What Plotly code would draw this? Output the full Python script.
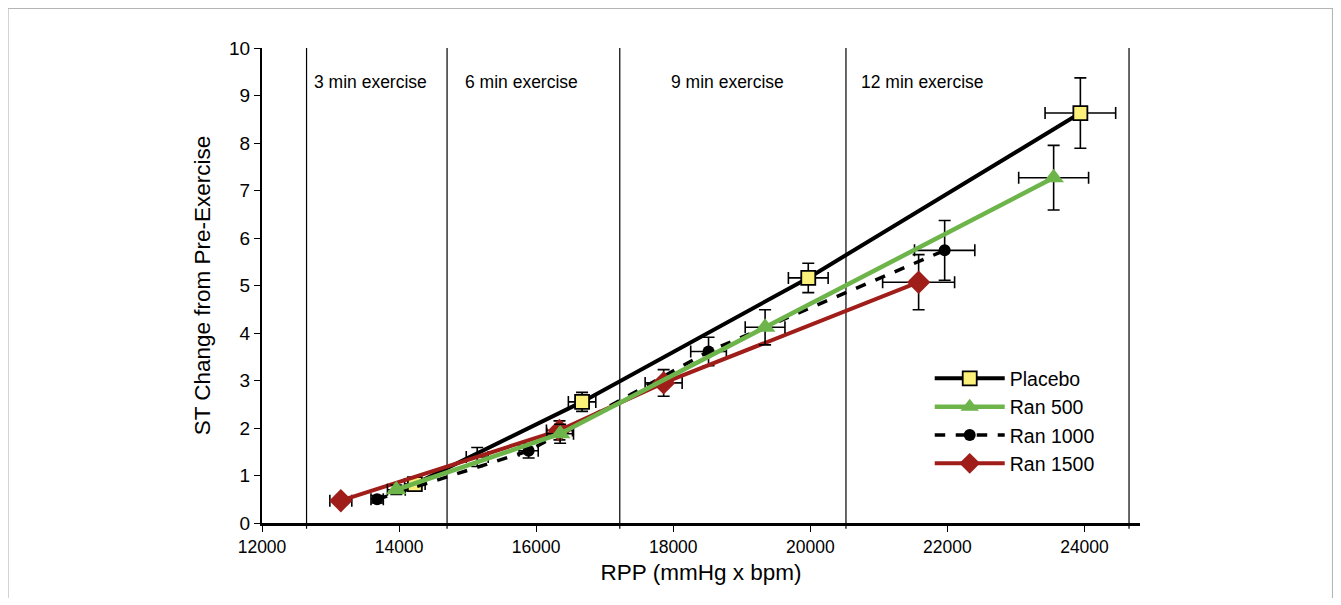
import plotly.graph_objects as go

# ---- data ----
placebo_x = [14230, 16670, 19970, 23940]
placebo_y = [0.82, 2.55, 5.16, 8.63]
placebo_ex = [150, 200, 290, 515]
placebo_ey = [0.10, 0.20, 0.31, 0.74]

ran500_x = [13960, 16350, 19340, 23550]
ran500_y = [0.70, 1.88, 4.12, 7.27]
ran500_ex = [130, 195, 290, 510]
ran500_ey = [0.10, 0.20, 0.37, 0.68]

ran1000_x = [13680, 15890, 18515, 21960]
ran1000_y = [0.50, 1.52, 3.61, 5.74]
ran1000_ex = [90, 140, 260, 440]
ran1000_ey = [0.08, 0.15, 0.30, 0.63]

ran1500_x = [13150, 16340, 17860, 21580]
ran1500_y = [0.47, 1.95, 2.95, 5.07]
ran1500_ex = [160, 190, 270, 525]
ran1500_ey = [0.08, 0.20, 0.28, 0.58]

# error bar visible without a marker
extra_x = [15140]
extra_y = [1.39]
extra_ex = [160]
extra_ey = [0.20]

stage_bounds = [12650, 14700, 17220, 20520, 24650]
stage_labels = ["3 min exercise", "6 min exercise", "9 min exercise", "12 min exercise"]
stage_label_x = [13580, 15780, 18790, 21640]
stage_label_y = 9.28

x_ticks = [12000, 14000, 16000, 18000, 20000, 22000, 24000]
y_ticks = list(range(0, 11))

FONT = "Liberation Sans, Arial, Helvetica, sans-serif"
GREEN = "#6db54b"
RED = "#a01e1a"
YELLOW = "#fbf07a"

fig = go.Figure()


def err(arr, w=6):
    return dict(type="data", array=arr, visible=True, color="black", thickness=1.6, width=w)


fig.add_trace(go.Scatter(
    x=extra_x, y=extra_y, mode="markers", showlegend=False,
    marker=dict(size=1, opacity=0),
    error_x=err(extra_ex), error_y=err(extra_ey), hoverinfo="skip"))

fig.add_trace(go.Scatter(
    x=placebo_x, y=placebo_y, name="Placebo", mode="lines+markers", legendrank=1,
    line=dict(color="black", width=4),
    marker=dict(symbol="square", size=14, color=YELLOW, line=dict(color="black", width=1.8)),
    error_x=err(placebo_ex), error_y=err(placebo_ey)))

fig.add_trace(go.Scatter(
    x=ran1000_x, y=ran1000_y, name="Ran 1000", mode="lines+markers", legendrank=3,
    line=dict(color="black", width=3.5, dash="dash"),
    marker=dict(symbol="circle", size=12, color="black"),
    error_x=err(ran1000_ex), error_y=err(ran1000_ey)))

fig.add_trace(go.Scatter(
    x=ran1500_x, y=ran1500_y, name="Ran 1500", mode="lines+markers", legendrank=4,
    line=dict(color=RED, width=4),
    marker=dict(symbol="diamond", size=18, color=RED),
    error_x=err(ran1500_ex), error_y=err(ran1500_ey)))

fig.add_trace(go.Scatter(
    x=ran500_x, y=ran500_y, name="Ran 500", mode="lines+markers", legendrank=2,
    line=dict(color=GREEN, width=4.5),
    marker=dict(symbol="triangle-up", size=18, color=GREEN),
    error_x=err(ran500_ex), error_y=err(ran500_ey)))

shapes = []
for xb in stage_bounds:
    shapes.append(dict(type="line", xref="x", yref="paper", x0=xb, x1=xb, y0=-0.012, y1=1,
                       line=dict(color="black", width=1.2), layer="below"))
# outer light frame
shapes.append(dict(type="rect", xref="paper", yref="paper", x0=-0.2893, x1=1.2193, y0=-0.25, y1=1.0832,
                   line=dict(color="#b5b5b5", width=1.2), fillcolor="rgba(0,0,0,0)", layer="below"))

annotations = []
for lx, lt in zip(stage_label_x, stage_labels):
    annotations.append(dict(x=lx, y=stage_label_y, xref="x", yref="y", text=lt, showarrow=False,
                            font=dict(family=FONT, size=17.5, color="black")))

fig.update_layout(
    width=1326, height=590,
    margin=dict(l=254, r=194, t=40, b=75),
    paper_bgcolor="white", plot_bgcolor="white",
    font=dict(family=FONT, color="black"),
    shapes=shapes, annotations=annotations,
    showlegend=True,
    legend=dict(x=0.7605, y=0.345, xanchor="left", yanchor="top", bgcolor="rgba(0,0,0,0)",
                font=dict(family=FONT, size=19.5, color="black"), itemwidth=70,
                tracegroupgap=0),
)

fig.update_xaxes(range=[12000, 24810], tickvals=x_ticks, ticktext=[str(v) for v in x_ticks],
                 showgrid=False, zeroline=False, showline=True, linecolor="black", linewidth=2.5,
                 ticks="outside", ticklen=6, tickwidth=1.2, tickcolor="black",
                 tickfont=dict(family=FONT, size=17.5),
                 title=dict(text="RPP (mmHg x bpm)", font=dict(family=FONT, size=22.5), standoff=9))
fig.update_yaxes(range=[0, 10], tickvals=y_ticks, showgrid=False, zeroline=False, showline=True,
                 linecolor="black", linewidth=2, ticks="outside", ticklen=6, tickwidth=1.2,
                 tickcolor="black", tickfont=dict(family=FONT, size=19),
                 title=dict(text="ST Change from Pre-Exercise", font=dict(family=FONT, size=22.5), standoff=12))

fig.write_html("out.html")
